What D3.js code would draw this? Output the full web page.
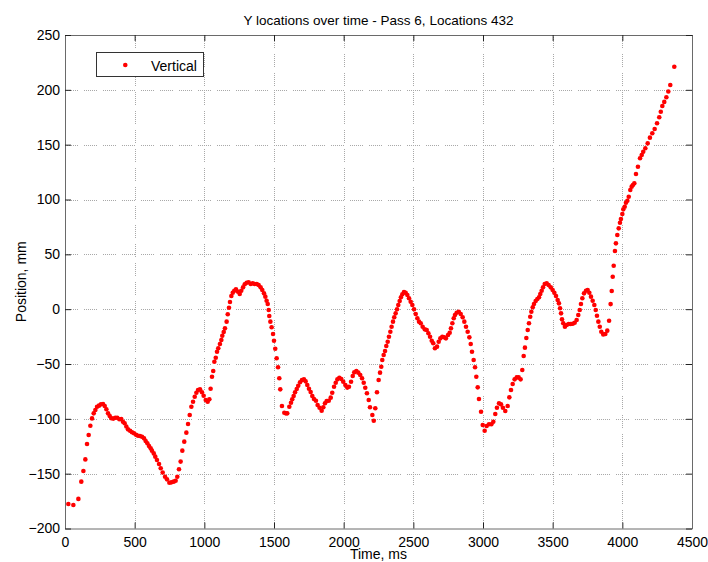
<!DOCTYPE html>
<html>
<head>
<meta charset="utf-8">
<script src="https://cdn.jsdelivr.net/npm/d3@7"></script>
<style>
  html, body { margin: 0; padding: 0; background: #fff; }
  svg { display: block; font-family: "Liberation Sans", Arial, Helvetica, sans-serif; }
</style>
</head>
<body>
<svg id="chart" width="708" height="562"></svg>
<script>
// Sample times (ms) of the tracked location
const timeMs = [
  24, 60, 96, 117, 132, 146, 158, 170, 182, 194, 206, 218, 230, 244, 258, 273, 285, 297, 309, 321,
  333, 347, 361, 375, 390, 404, 416, 428, 440, 452, 467, 481, 495, 510, 524, 538, 553, 567, 579, 591,
  603, 615, 624, 637, 648, 660, 675, 687, 701, 718, 732, 749, 763, 780, 794, 806, 818, 830, 842, 856,
  871, 883, 895, 907, 919, 931, 943, 955, 969, 983, 995, 1010, 1024, 1036, 1045, 1055, 1064, 1072, 1082, 1091,
  1100, 1112, 1122, 1129, 1139, 1148, 1160, 1168, 1177, 1184, 1194, 1204, 1215, 1227, 1242, 1254, 1265, 1278, 1290, 1304,
  1318, 1333, 1347, 1361, 1376, 1390, 1404, 1416, 1428, 1438, 1447, 1455, 1462, 1466, 1474, 1483, 1493, 1500, 1509, 1519,
  1529, 1538, 1545, 1557, 1574, 1585, 1595, 1610, 1622, 1631, 1641, 1651, 1663, 1674, 1687, 1701, 1715, 1727, 1739, 1751,
  1763, 1775, 1787, 1801, 1813, 1827, 1842, 1854, 1866, 1878, 1893, 1907, 1918, 1931, 1943, 1955, 1969, 1983, 1997, 2012,
  2026, 2038, 2053, 2065, 2076, 2091, 2105, 2119, 2132, 2144, 2155, 2167, 2180, 2189, 2206, 2216, 2227, 2239, 2251, 2261,
  2270, 2277, 2287, 2297, 2306, 2316, 2325, 2335, 2344, 2354, 2363, 2373, 2383, 2392, 2402, 2411, 2421, 2433, 2445, 2457,
  2469, 2481, 2493, 2505, 2517, 2529, 2541, 2553, 2567, 2582, 2596, 2608, 2620, 2632, 2643, 2655, 2670, 2682, 2694, 2708,
  2722, 2734, 2749, 2761, 2770, 2780, 2790, 2799, 2811, 2826, 2840, 2854, 2866, 2878, 2890, 2902, 2912, 2921, 2933, 2943,
  2952, 2962, 2971, 2986, 2998, 3012, 3026, 3043, 3060, 3074, 3088, 3100, 3115, 3129, 3143, 3160, 3177, 3189, 3201, 3213,
  3227, 3242, 3256, 3270, 3282, 3292, 3301, 3311, 3321, 3330, 3339, 3347, 3357, 3366, 3378, 3390, 3402, 3411, 3421, 3431,
  3443, 3457, 3471, 3486, 3500, 3512, 3524, 3536, 3545, 3553, 3560, 3567, 3576, 3588, 3600, 3615, 3629, 3644, 3658, 3672,
  3684, 3694, 3703, 3713, 3725, 3739, 3751, 3763, 3775, 3787, 3799, 3809, 3818, 3828, 3838, 3849, 3863, 3878, 3892, 3905,
  3916, 3924, 3931, 3938, 3947, 3954, 3964, 3974, 3983, 3990, 4000, 4007, 4017, 4026, 4036, 4046, 4057, 4067, 4076, 4086,
  4098, 4112, 4127, 4139, 4150, 4165, 4182, 4198, 4215, 4232, 4249, 4265, 4276, 4287, 4301, 4316, 4330, 4344, 4373
];

// Vertical position (mm) at each sample time
const positionMm = [
  -177.7, -178.6, -173, -157.3, -147.6, -137, -123, -114.8, -106.3, -99.6, -95, -92, -89, -88, -86.8, -86.5, -88.3, -91.3, -95, -97.4,
  -99.5, -99.8, -99, -99, -100.4, -100.2, -102.6, -104, -107, -109.6, -110.8, -112.3, -113.2, -114.5, -115.4, -115.7, -116.3, -117.8, -120.2, -122.3,
  -124.8, -126.9, -129, -131.5, -134.5, -137.6, -141.2, -145, -149, -152.8, -155.2, -158.3, -157.9, -157.3, -156.4, -152.8, -146, -139, -129, -120.8,
  -112.6, -104.7, -96.5, -89, -84.4, -79.8, -76.2, -73.7, -73.1, -75.8, -78.9, -82.8, -84.4, -82.2, -72.5, -61.6, -56.4, -47.9, -44.3, -38.8,
  -35.7, -31.8, -28.1, -24.2, -20.8, -17.5, -11.4, -4.7, 1.3, 6.5, 12, 15, 16.8, 18.1, 15.9, 13.8, 16.8, 19.9, 22.7, 24.1,
  24.5, 22.9, 23.6, 22.9, 22.9, 22, 19.9, 17.5, 14.4, 11.4, 7.7, 4.7, -0.8, -6.2, -11.4, -16.5, -22.7, -28.8, -36.1, -44.8,
  -53, -63, -73.1, -88.3, -94.4, -95, -95, -89, -85.3, -82.2, -79.2, -75.8, -72.8, -69.8, -66.7, -64.6, -64, -65.8, -69.2, -72.5,
  -75.5, -79.2, -81.9, -83.5, -87.4, -89.9, -92.6, -89.5, -85.8, -83.8, -83.5, -80.7, -76.2, -70.7, -67.1, -64, -62.5, -63.7, -66.2, -69.2,
  -71.5, -70.7, -66.2, -61, -57.6, -56.4, -57.9, -60, -63, -67.1, -71.6, -76.7, -82.8, -89.5, -96.5, -101.7, -90.4, -75.8, -64.6, -57.9,
  -52.5, -46.4, -41.8, -38.2, -33.6, -29.7, -25.1, -20.6, -16, -11.4, -7.4, -3.8, -0.1, 3.8, 7.4, 10.8, 13.5, 15.6, 15, 12.9,
  9.9, 6.8, 3.8, -0.1, -4.4, -8.3, -11.4, -12.9, -16, -18.4, -19, -22, -25.1, -28.8, -31.1, -35.7, -34.2, -29.7, -26.6, -25.1,
  -25.7, -26.6, -23.6, -21.5, -17.5, -12.9, -8.3, -5.3, -3.2, -2.3, -4.4, -7.4, -11.4, -16, -20.6, -25.7, -31.8, -38.8, -46.4, -53,
  -61.6, -71.3, -81.9, -93.5, -105.6, -110.8, -106.6, -105, -105, -102.6, -95.6, -89.9, -85.9, -86.8, -89.9, -92.9, -88.3, -80.4, -73.7, -68.3,
  -64, -62.2, -62.2, -64, -55.5, -42.7, -35.1, -26.3, -19, -12.9, -6.9, -2.3, 1.7, 4.7, 7.4, 9.3, 10.8, 13.8, 16.8, 19.9,
  22.9, 23.6, 22, 19.9, 17.5, 15, 12, 8.4, 5.3, 0.8, -3.8, -9.3, -12.9, -16, -14.4, -13.5, -13.5, -13.3, -12.4, -9.9,
  -5.3, -0.8, 4.7, 9.9, 14.4, 16.8, 17.5, 15, 11.4, 7.7, 3.8, -0.8, -6, -11.4, -16, -20.6, -23, -22.7, -19.6, -10.5,
  4.6, 16.6, 29.6, 39.6, 53, 60, 67.6, 73.7, 78.8, 82.2, 86.8, 91, 93.4, 97.1, 98.9, 102.5, 108.7, 111.7, 113.2, 114.8,
  123.3, 129.9, 137.6, 140.6, 143.6, 146.7, 151.2, 156.4, 160.4, 164.3, 169.5, 175, 180, 185.3, 189, 193.2, 198.5, 204.4, 221.1
];

const xTicks = [0, 500, 1000, 1500, 2000, 2500, 3000, 3500, 4000, 4500];
const yTicks = [-200, -150, -100, -50, 0, 50, 100, 150, 200, 250];

const titleText = "Y locations over time - Pass 6, Locations 432";
const xLabel = "Time, ms";
const yLabel = "Position, mm";
const seriesName = "Vertical";

const svg = d3.select("#chart");
const plot = { left: 65, right: 692, top: 35, bottom: 528.5 };

const x = d3.scaleLinear().domain([0, 4500]).range([plot.left, plot.right]);
const y = d3.scaleLinear().domain([-200, 250]).range([plot.bottom, plot.top]);

const points = timeMs.map((t, i) => ({ t, v: positionMm[i] }));

// grid: runs of fine dots separated by short gaps
const gridDash = "1,1,1,1,1,1,1,1,1,1,1,1,1,6";
const grid = svg.append("g").attr("class", "grid")
  .attr("stroke", "#a8a8a8").attr("stroke-width", 1).attr("stroke-dasharray", gridDash);
grid.selectAll("line.gx").data(xTicks.slice(1, -1)).join("line")
  .attr("x1", d => Math.round(x(d)) + 0.5).attr("x2", d => Math.round(x(d)) + 0.5)
  .attr("y1", plot.top).attr("y2", plot.bottom);
grid.selectAll("line.gy").data(yTicks.slice(1, -1)).join("line")
  .attr("y1", d => Math.round(y(d)) + 0.5).attr("y2", d => Math.round(y(d)) + 0.5)
  .attr("x1", plot.left).attr("x2", plot.right);

// axes with inward ticks on all four sides
const fmt = d3.format("d");
function styleAxis(g) {
  g.select(".domain").attr("stroke", "#6a6a6a");
  g.selectAll(".tick line").attr("stroke", "#222");
  g.selectAll(".tick text").attr("fill", "#000").attr("font-size", "14px")
    .attr("font-family", "'Liberation Sans', Arial, sans-serif");
}

svg.append("g").attr("transform", `translate(0,${plot.bottom})`)
  .call(d3.axisBottom(x).tickValues(xTicks).tickFormat(fmt).tickSizeInner(-6).tickSizeOuter(0).tickPadding(8.5))
  .call(styleAxis);
svg.append("g").attr("transform", `translate(0,${plot.top})`)
  .call(d3.axisTop(x).tickValues(xTicks).tickFormat("").tickSizeInner(-6).tickSizeOuter(0))
  .call(styleAxis);
svg.append("g").attr("transform", `translate(${plot.left},0)`)
  .call(d3.axisLeft(y).tickValues(yTicks).tickFormat(fmt).tickSizeInner(-6).tickSizeOuter(0).tickPadding(5))
  .call(styleAxis);
svg.append("g").attr("transform", `translate(${plot.right},0)`)
  .call(d3.axisRight(y).tickValues(yTicks).tickFormat("").tickSizeInner(-6).tickSizeOuter(0))
  .call(styleAxis);

// data markers
svg.append("g").attr("class", "series")
  .selectAll("circle").data(points).join("circle")
  .attr("cx", d => x(d.t)).attr("cy", d => y(d.v))
  .attr("r", 2.3).attr("fill", "#ff0000");

// title and axis labels
svg.append("text").attr("x", (plot.left + plot.right) / 2).attr("y", 24.5)
  .attr("text-anchor", "middle").attr("font-size", "13.5px").attr("fill", "#000").text(titleText);
svg.append("text").attr("x", (plot.left + plot.right) / 2).attr("y", 558.5)
  .attr("text-anchor", "middle").attr("font-size", "14px").attr("fill", "#000").text(xLabel);
svg.append("text")
  .attr("transform", `translate(25.5,${(plot.top + plot.bottom) / 2}) rotate(-90)`)
  .attr("text-anchor", "middle").attr("font-size", "14px").attr("fill", "#000").text(yLabel);

// legend
const legend = svg.append("g").attr("class", "legend");
legend.append("rect").attr("x", 96.5).attr("y", 52.5).attr("width", 107).attr("height", 24)
  .attr("fill", "#fff").attr("stroke", "#333").attr("stroke-width", 1);
legend.append("circle").attr("cx", 125.3).attr("cy", 65).attr("r", 2.3).attr("fill", "#ff0000");
legend.append("text").attr("x", 151).attr("y", 70.5).attr("font-size", "14px").attr("fill", "#000").text(seriesName);
</script>
</body>
</html>
